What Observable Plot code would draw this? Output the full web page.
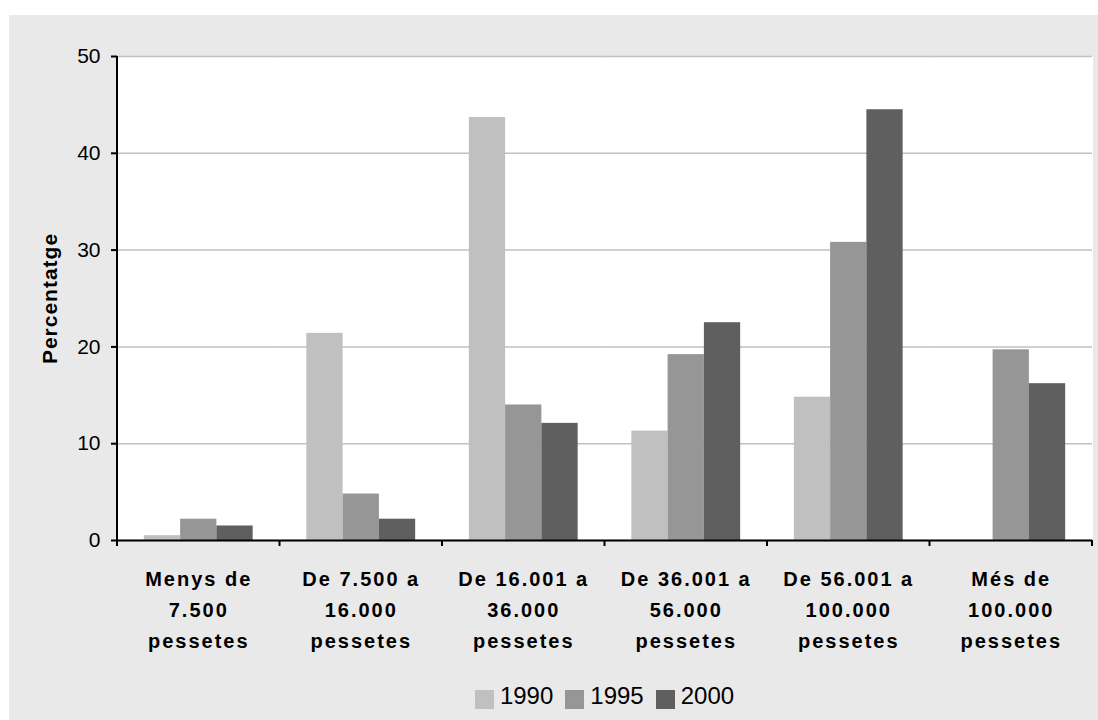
<!DOCTYPE html>
<html><head><meta charset="utf-8">
<script src="https://cdn.jsdelivr.net/npm/d3@7"></script>
<script src="https://cdn.jsdelivr.net/npm/@observablehq/plot@0.6"></script>
<style>
html,body{margin:0;padding:0;background:#fff;}
#box{position:absolute;left:9px;top:15px;width:1089px;height:705px;background:#e9e9e9;font-family:"Liberation Sans",Arial,sans-serif;}
#chart{position:absolute;left:0;top:0;}
#legend{position:absolute;left:108px;width:975px;top:669px;display:flex;justify-content:center;align-items:center;font-size:24px;line-height:24px;color:#000;}
#legend .item{display:flex;align-items:center;margin:0 6px;}
#legend .sw{width:19px;height:19px;margin-right:6px;position:relative;top:3px;}
svg g[aria-label="fx-axis tick label"] text{font-weight:bold;letter-spacing:2px;}
svg g[aria-label="y-axis label"] text{font-weight:bold;letter-spacing:1px;}
</style></head><body>
<div id="box"><div id="chart"></div><div id="legend"></div></div>
<script>
const categories = ["Menys de\n7.500\npessetes", "De 7.500 a\n16.000\npessetes", "De 16.001 a\n36.000\npessetes", "De 36.001 a\n56.000\npessetes", "De 56.001 a\n100.000\npessetes", "Més de\n100.000\npessetes"];
const years = ["1990", "1995", "2000"];
const v1990 = [0.5, 21.4, 43.7, 11.3, 14.8, null];
const v1995 = [2.2, 4.8, 14.0, 19.2, 30.8, 19.7];
const v2000 = [1.5, 2.2, 12.1, 22.5, 44.5, 16.2];
const colors = ["#c0c0c0", "#969696", "#5f5f5f"];
const yTicks = [0, 10, 20, 30, 40, 50];
const yLabel = "Percentatge";

const series = [v1990, v1995, v2000];
const data = categories.flatMap((c, i) => years.map((y, j) => ({cat: c, year: y, value: series[j][i]})));

const plot = Plot.plot({
  width: 1089, height: 635,
  marginLeft: 108, marginRight: 6, marginTop: 41, marginBottom: 110,
  style: {background: "transparent", fontFamily: "Liberation Sans, Arial, sans-serif", fontSize: "20px", color: "#000", overflow: "visible"},
  fx: {domain: categories, padding: 0, round: false, label: null},
  x: {domain: years, paddingInner: 0, paddingOuter: 0.74, round: false, axis: null},
  y: {domain: [0, 50], ticks: yTicks},
  color: {domain: years, range: colors},
  marks: [
    Plot.frame({fill: "white", stroke: "white", strokeWidth: 1}),
    Plot.gridY(yTicks, {stroke: "#c0c0c0", strokeOpacity: 1, strokeWidth: 1.5}),
    Plot.barY(data.filter(d => d.value != null), {fx: "cat", x: "year", y: "value", fill: "year"}),
    Plot.ruleY([0], {stroke: "#000", strokeWidth: 2}),
    Plot.axisY(yTicks, {tickSize: 6, tickPadding: 11, stroke: "#000", strokeWidth: 2, fontSize: 21, label: yLabel, labelAnchor: "center", labelArrow: "none", labelOffset: 75}),
    Plot.axisFx({anchor: "bottom", tickSize: 0, tickPadding: 23, fontSize: 20, lineHeight: 1.55, label: null})
  ]
});
document.getElementById("chart").appendChild(plot);

// axis line and category boundary ticks, positioned from Plot's own scales
const fx = plot.scale("fx"), ys = plot.scale("y");
const y0 = ys.apply(0), yTop = ys.apply(yTicks[yTicks.length - 1]);
const bounds = categories.map(c => fx.apply(c)).concat([fx.apply(categories[categories.length - 1]) + fx.bandwidth]);
const svg = d3.select(plot);
svg.append("line").attr("x1", bounds[0]).attr("x2", bounds[0]).attr("y1", y0 + 1).attr("y2", yTop)
  .attr("stroke", "#000").attr("stroke-width", 2);
svg.append("g").selectAll("line").data(bounds).join("line")
  .attr("x1", d => d).attr("x2", d => d).attr("y1", y0).attr("y2", y0 + 6)
  .attr("stroke", "#000").attr("stroke-width", 2);

const legend = d3.select("#legend");
years.forEach((y, j) => {
  const it = legend.append("div").attr("class", "item");
  it.append("div").attr("class", "sw").style("background", colors[j]);
  it.append("span").text(y);
});
</script>
</body></html>
